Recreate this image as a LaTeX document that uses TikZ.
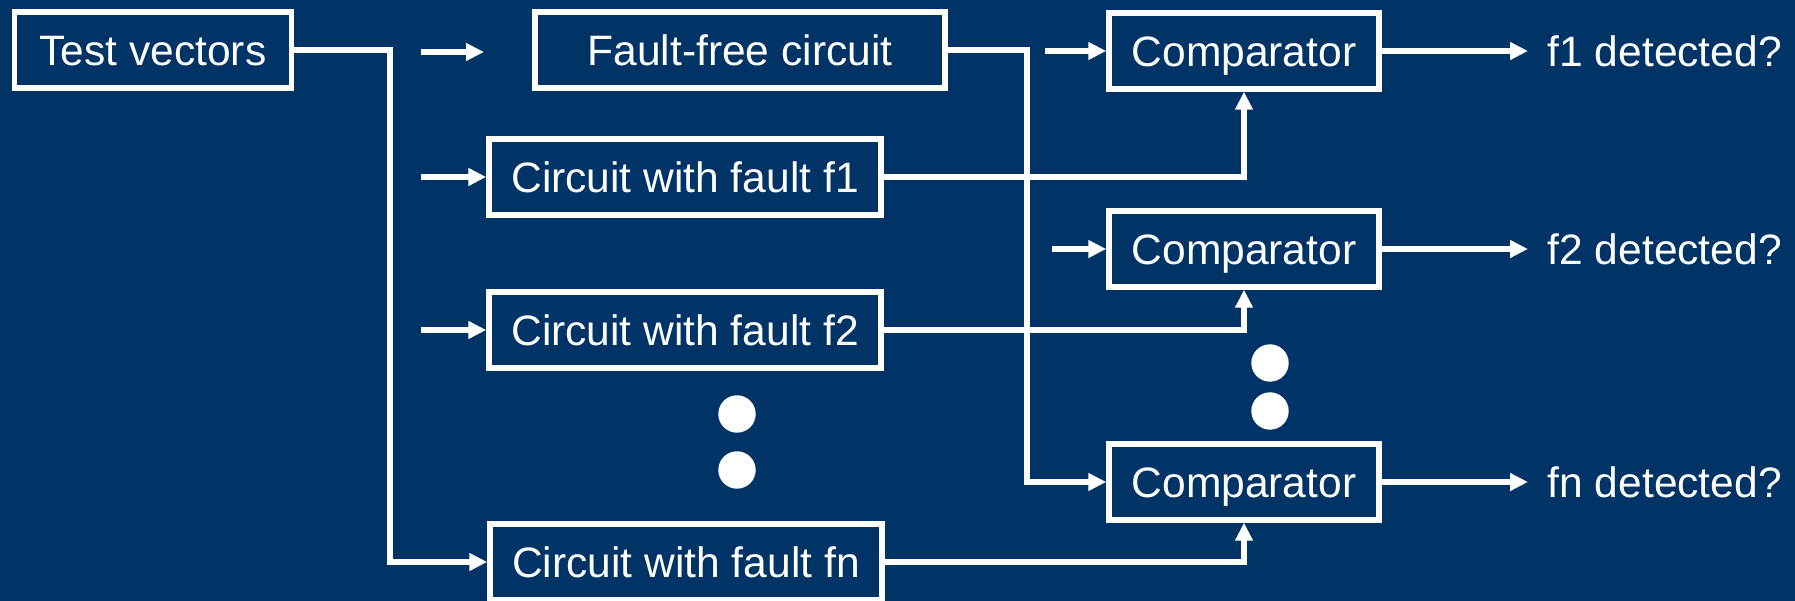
\documentclass[tikz,border=0pt]{standalone}
\usepackage{fontspec}
\setmainfont{Liberation Sans}
\usetikzlibrary{arrows.meta}
\definecolor{slideBlue}{RGB}{0,51,102}

\begin{document}
\begin{tikzpicture}
[x=1cm,y=-1cm,
  boxDecorate/.style={shape=rectangle,draw=white,line width=1.55pt,
    minimum height=0.76cm,inner sep=0pt,text=white,
    font=\fontsize{12.1pt}{14pt}\selectfont,text height=0.31cm,text depth=0pt},
  labelDecorate/.style={anchor=west,inner sep=0.19cm,text=white,
    font=\fontsize{12.1pt}{14pt}\selectfont,text height=0.31cm,text depth=0pt},
  dotDecorate/.style={shape=circle,fill=white,minimum size=0.374cm,inner sep=0pt},
  arrowDecorate/.style={white,line width=1.5pt,-{Triangle[length=5.1pt,width=4.8pt]}}]
\useasboundingbox (0,0) rectangle (17.95,6.01);
\fill[slideBlue] (0,0) rectangle (17.95,6.01);
%% blocks
\foreach \nodename/\x/\y/\w/\txt in {
  tv/1.53/0.50/2.77/Test vectors,
  ff/7.40/0.50/4.10/Fault-free circuit,
  c1/6.85/1.77/3.92/Circuit with fault f1,
  c2/6.85/3.30/3.92/Circuit with fault f2,
  cn/6.86/5.62/3.92/Circuit with fault fn,
  cmp1/12.44/0.51/2.70/Comparator,
  cmp2/12.44/2.49/2.70/Comparator,
  cmpn/12.44/4.82/2.70/Comparator}
{
  \node (\nodename) at (\x,\y) [boxDecorate,minimum width=\w cm] {\txt};
}
%% results
\foreach \nodename/\y/\txt in {d1/0.51/f1, d2/2.49/f2, dn/4.82/fn}
{
  \node (\nodename) at (15.28,\y) [labelDecorate] {\txt{} detected?};
}
%% dots
\foreach \nodename/\x/\y in {dl1/7.37/4.14, dl2/7.37/4.70, dr1/12.70/3.63, dr2/12.70/4.11}
{
  \node (\nodename) at (\x,\y) [dotDecorate] {};
}
%% stubs and bus corners
\coordinate (s0) at (4.21,0.52);
\coordinate (t0) at (4.84,0.52);
\coordinate (s1) at (4.21,1.77);
\coordinate (s2) at (4.21,3.30);
\coordinate (s3) at (10.45,0.51);
\coordinate (s4) at (10.52,2.49);
\coordinate (tvbus) at (3.90,0.50);
\coordinate (ffbus) at (10.27,0.50);
%% straight edges
\path
\foreach \startnode/\endnode in {
  s0/t0, s1/c1, s2/c2, s3/cmp1, s4/cmp2, cmp1/d1, cmp2/d2, cmpn/dn}
{
  (\startnode) edge[arrowDecorate] (\endnode)
};
%% bent edges into the comparators
\path
\foreach \startnode/\endnode in {c1/cmp1, c2/cmp2, cn/cmpn}
{
  (\startnode) edge[arrowDecorate,to path={-| (\tikztotarget)}] (\endnode)
};
\draw[arrowDecorate] (tv) -- (tvbus) |- (cn);
\draw[arrowDecorate] (ff) -- (ffbus) |- (cmpn);
\end{tikzpicture}
\end{document}
